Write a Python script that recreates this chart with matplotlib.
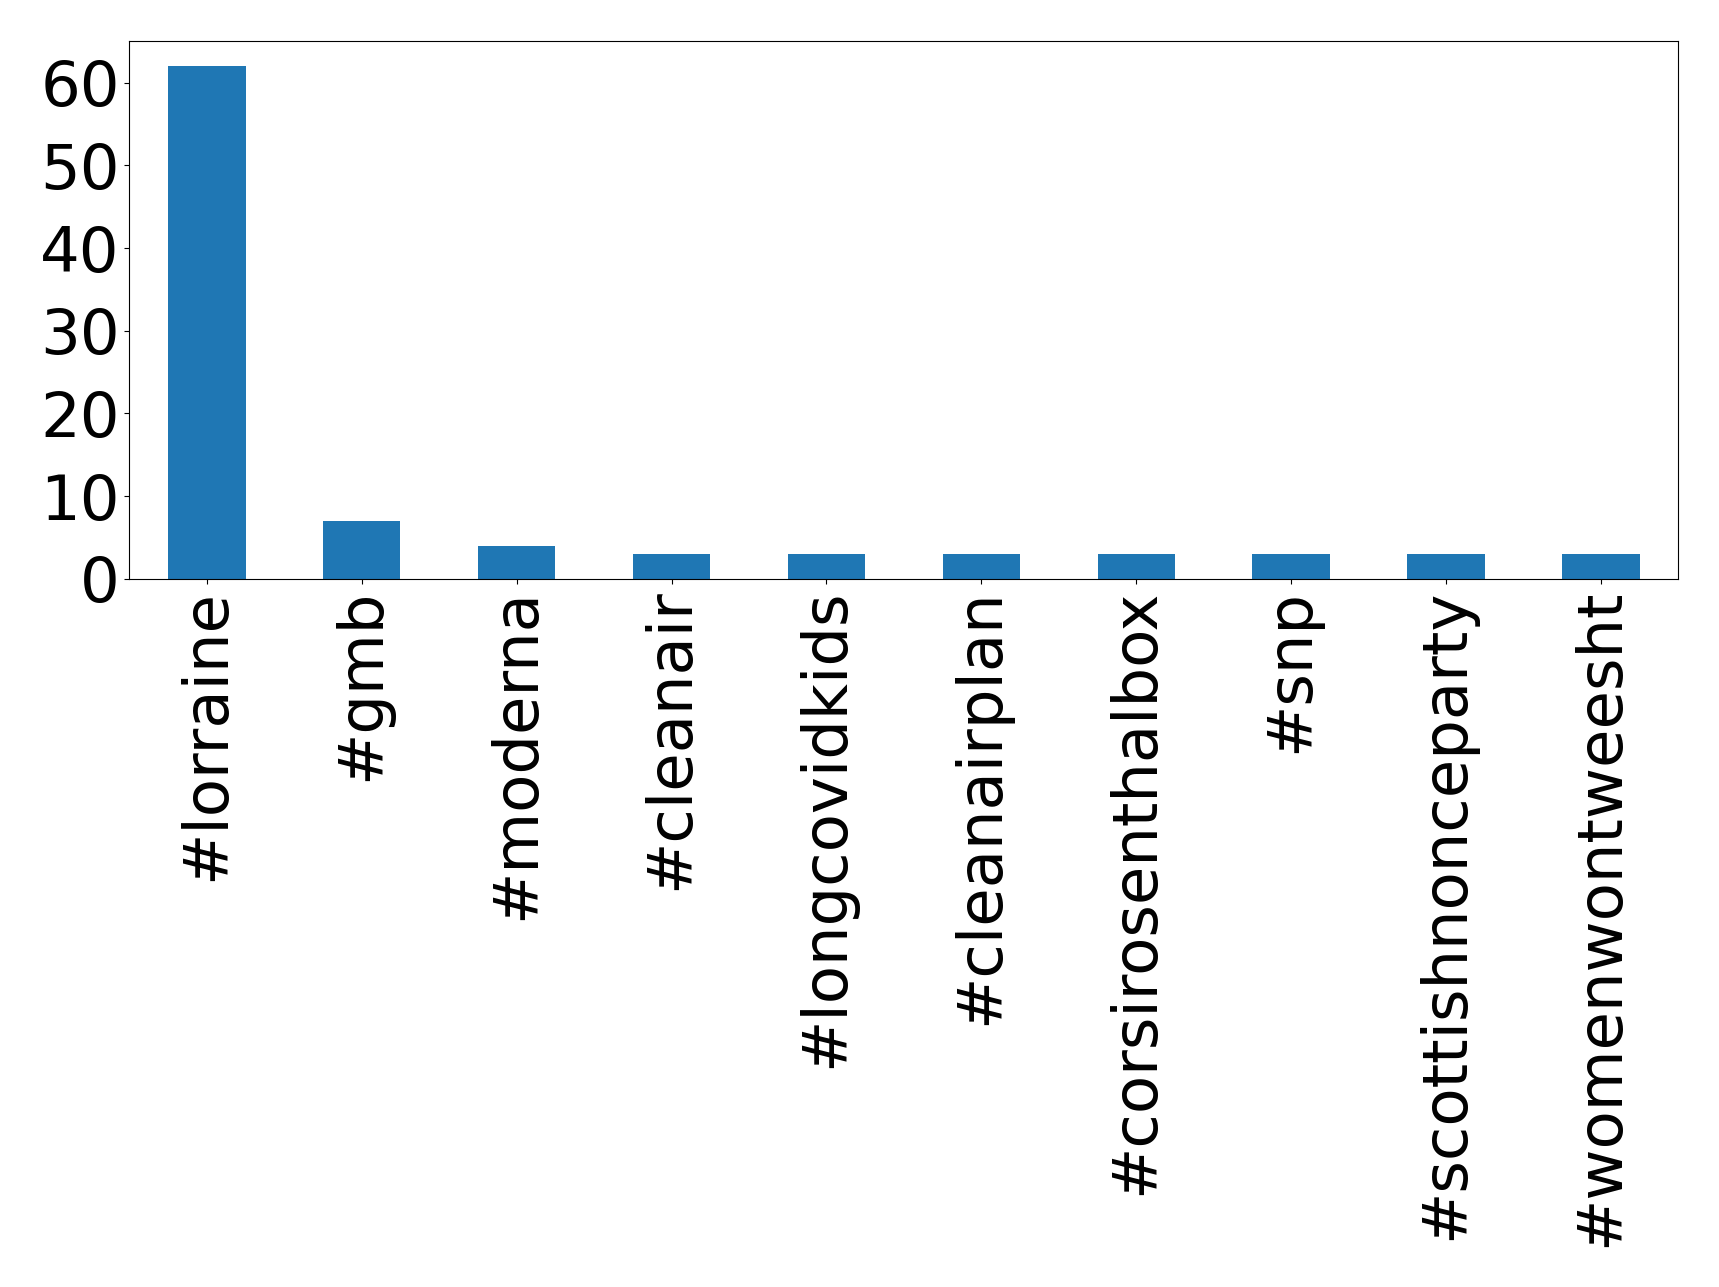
import matplotlib
matplotlib.use("Agg")
import matplotlib.pyplot as plt

hashtags = ['#lorraine', '#gmb', '#moderna', '#cleanair', '#longcovidkids',
            '#cleanairplan', '#corsirosenthalbox', '#snp', '#scottishnonceparty',
            '#womenwontweesht']
counts = [62, 7, 4, 3, 3, 3, 3, 3, 3, 3]
yticks = [0, 10, 20, 30, 40, 50, 60]

fig = plt.figure(figsize=(17.19, 12.87), dpi=100)
ax = fig.add_axes([129.4 / 1719, 1 - 578.8 / 1287, (1678.4 - 129.4) / 1719, (578.8 - 40.6) / 1287])

ax.bar(range(len(counts)), counts, width=0.5, color='#1f77b4')
ax.set_xlim(-0.5, len(counts) - 0.5)
ax.set_ylim(0, max(counts) * 1.05)
ax.set_yticks(yticks)
ax.set_xticks(range(len(counts)))
ax.set_xticklabels(hashtags, rotation=90)
ax.tick_params(labelsize=45)

fig.savefig('out.png', dpi=100)
